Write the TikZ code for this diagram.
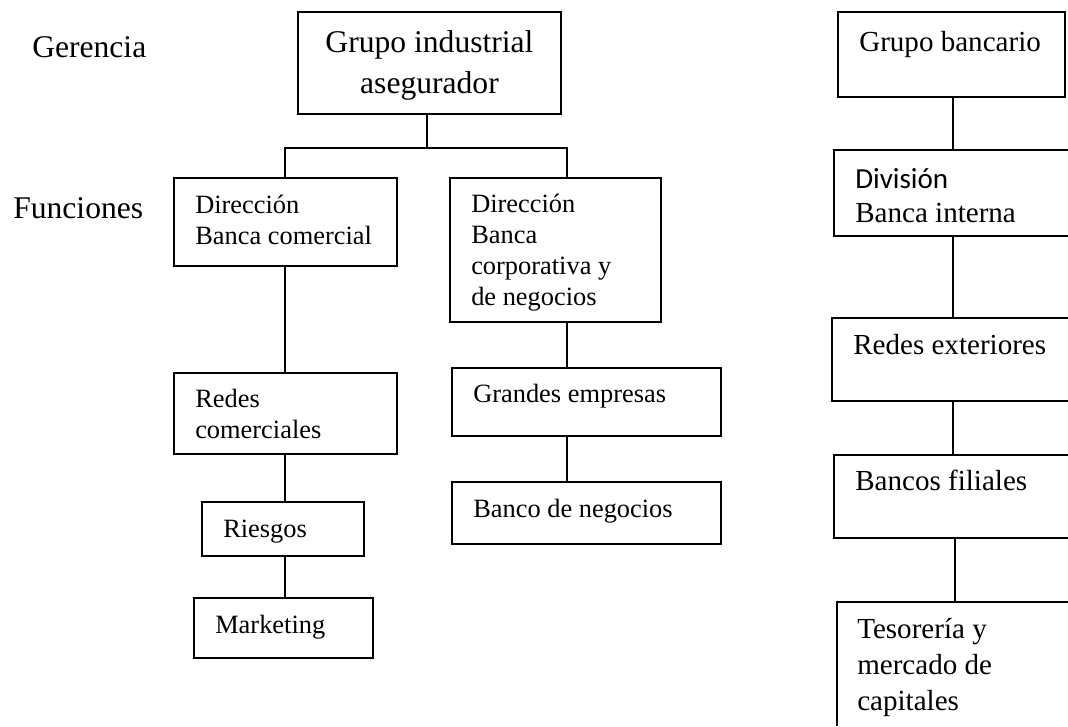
\documentclass[tikz,border=0pt]{standalone}
\usepackage{fontspec}
\setmainfont{Liberation Serif}
\newfontfamily\calib{Carlito}
\usetikzlibrary{fit}
\begin{document}
\begin{tikzpicture}[x=0.75pt,y=-0.75pt,
  ln/.style={line width=0.9pt},
  boxst/.style={draw, line width=0.9pt, inner sep=0pt, outer sep=0pt},
  openbox/.style={inner sep=0pt, outer sep=0pt},
  big/.style={font=\fontsize{23.7}{30.75}\selectfont, inner sep=0pt},
  mid/.style={font=\fontsize{19.8}{23.25}\selectfont, align=left, anchor=base west, inner sep=0pt},
  rcol/.style={font=\fontsize{21.8}{27}\selectfont, align=left, anchor=base west, inner sep=0pt}]
\useasboundingbox (0,0) rectangle (1068,726);

% side labels
\node[big, anchor=base west] (ger) at (32,57) {Gerencia};
\node[big, anchor=base west] (fun) at (13,218) {Funciones};

% left tree boxes (text nodes anchored at the baseline of their last line)
\node[boxst, fit={(298,12) (561,114)}] (T) {};
\node[big, align=center, anchor=base] (Tt) at (429.5,93) {Grupo industrial\\asegurador};

\node[boxst, fit={(174,178) (397,266)}] (dbc) {};
\node[mid] (dbct) at (195,244) {Dirección\\Banca comercial};

\node[boxst, fit={(450,178) (661,322)}] (dcn) {};
\node[mid] (dcnt) at (471,305) {Dirección\\Banca\\corporativa y\\de negocios};

\node[boxst, fit={(174,373) (397,454)}] (rc) {};
\node[mid] (rct) at (195,438) {Redes\\comerciales};

\node[boxst, fit={(202,502) (364,556)}] (ri) {};
\node[mid] (rit) at (223,537) {Riesgos};

\node[boxst, fit={(194,598) (373,658)}] (mk) {};
\node[mid] (mkt) at (215,633) {Marketing};

\node[boxst, fit={(452,368) (721,436)}] (ge) {};
\node[mid] (get) at (473,402) {Grandes empresas};

\node[boxst, fit={(452,482) (721,544)}] (bn) {};
\node[mid] (bnt) at (473,517) {Banco de negocios};

% left connectors
\coordinate (jt) at (427,148);
\coordinate (jl) at (285,148);
\coordinate (jr) at (567,148);
\draw[ln] (T.south -| jt) -- (jt);
\draw[ln] (dbc.north -| jl) -- (jl) -- (jr) -- (dcn.north -| jr);
\draw[ln] (dbc.south -| jl) -- (rc.north -| jl);
\draw[ln] (rc.south -| jl) -- (ri.north -| jl);
\draw[ln] (ri.south -| jl) -- (mk.north -| jl);
\draw[ln] (dcn.south -| jr) -- (ge.north -| jr);
\draw[ln] (ge.south -| jr) -- (bn.north -| jr);

% right column
\node[boxst, fit={(838,12) (1065,97)}] (gb) {};
\node[rcol] (gbt) at (859,51) {Grupo bancario};

\node[openbox, fit={(834,150) (1068,236)}] (div) {};
\draw[ln] (div.north east) -- (div.north west) -- (div.south west) -- (div.south east);
\node[rcol] (divt) at (855,222) {{\calib División}\\[-1.5pt]Banca interna};

\node[openbox, fit={(832,318) (1068,401)}] (re) {};
\draw[ln] (re.north east) -- (re.north west) -- (re.south west) -- (re.south east);
\node[rcol] (ret) at (853,354) {Redes exteriores};

\node[openbox, fit={(834,455) (1068,538)}] (bf) {};
\draw[ln] (bf.north east) -- (bf.north west) -- (bf.south west) -- (bf.south east);
\node[rcol] (bft) at (855,490) {Bancos filiales};

\node[openbox, fit={(837,602) (1068,726)}] (tes) {};
\draw[ln] (tes.north east) -- (tes.north west) -- (tes.south west);
\node[rcol] (test) at (857,710) {Tesorería y\\mercado de\\capitales};

% right connectors
\coordinate (jb) at (953,0);
\coordinate (jc) at (955,0);
\draw[ln] (gb.south -| jb) -- (div.north -| jb);
\draw[ln] (div.south -| jb) -- (re.north -| jb);
\draw[ln] (re.south -| jb) -- (bf.north -| jb);
\draw[ln] (bf.south -| jc) -- (tes.north -| jc);
\end{tikzpicture}
\end{document}
